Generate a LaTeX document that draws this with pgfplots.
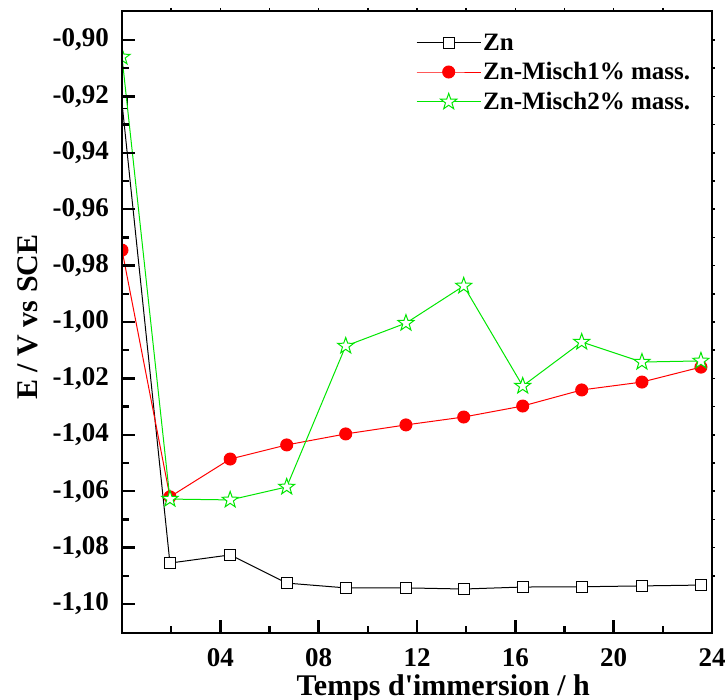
\documentclass[border=0pt]{standalone}
\usepackage{pgfplots}
\pgfplotsset{compat=1.18}
\usepackage{fontspec}
\setmainfont{Liberation Serif}
\pgfdeclareplotmark{ostar}{%
  \pgfpathmoveto{\pgfpointpolar{90}{\pgfplotmarksize}}%
  \pgfpathlineto{\pgfpointpolar{126}{0.4\pgfplotmarksize}}%
  \pgfpathlineto{\pgfpointpolar{162}{\pgfplotmarksize}}%
  \pgfpathlineto{\pgfpointpolar{198}{0.4\pgfplotmarksize}}%
  \pgfpathlineto{\pgfpointpolar{234}{\pgfplotmarksize}}%
  \pgfpathlineto{\pgfpointpolar{270}{0.4\pgfplotmarksize}}%
  \pgfpathlineto{\pgfpointpolar{306}{\pgfplotmarksize}}%
  \pgfpathlineto{\pgfpointpolar{342}{0.4\pgfplotmarksize}}%
  \pgfpathlineto{\pgfpointpolar{18}{\pgfplotmarksize}}%
  \pgfpathlineto{\pgfpointpolar{54}{0.4\pgfplotmarksize}}%
  \pgfpathclose
  \pgfusepathqfillstroke}
\definecolor{pgreen}{RGB}{0,230,0}
\begin{document}
\begin{tikzpicture}
\begin{axis}[
  at={(0bp,0bp)}, anchor=south west,
  scale only axis, width=590bp, height=622bp,
  xmin=0, xmax=24, ymin=-1.1103, ymax=-0.8897,
  xtick={4,8,12,16,20,24}, xticklabels={04,08,12,16,20,24},
  minor xtick={2,6,10,14,18,22},
  ytick={-1.10,-1.08,-1.06,-1.04,-1.02,-1.00,-0.98,-0.96,-0.94,-0.92,-0.90},
  yticklabels={{-1,10},{-1,08},{-1,06},{-1,04},{-1,02},{-1,00},{-0,98},{-0,96},{-0,94},{-0,92},{-0,90}},
  minor ytick={-1.09,-1.07,-1.05,-1.03,-1.01,-0.99,-0.97,-0.95,-0.93,-0.91},
  tick align=inside, tick pos=left,
  major tick length=13bp, minor tick length=7bp,
  every tick/.append style={line width=2.5bp, black},
  axis line style={line width=2.5bp},
  axis on top, clip marker paths=true,
  yticklabel style={font=\fontsize{27bp}{30bp}\selectfont\bfseries, inner sep=0pt, anchor=east, xshift=-13bp},
  xticklabel style={font=\fontsize{27bp}{30bp}\selectfont\bfseries, inner sep=0pt, anchor=north, yshift=-15bp},
  xlabel={Temps d\textquotesingle immersion / h},
  ylabel={E / V vs SCE},
  every axis x label/.style={at={(axis description cs:0.5445,-0.0997)}, anchor=base, font=\fontsize{30bp}{36bp}\selectfont\bfseries},
  every axis y label/.style={at={(axis description cs:-0.159,0.508)}, anchor=center, rotate=90, font=\fontsize{30bp}{36bp}\selectfont\bfseries},
  legend cell align=left,
  legend style={at={(axis description cs:0.4983,0.967)}, anchor=north west, draw=none, fill=none,
    inner sep=0pt, row sep=7bp, font=\fontsize{25bp}{29bp}\selectfont\bfseries,
    nodes={inner sep=2bp}},
  legend image code/.code={\draw[mark repeat=2,mark phase=2] plot coordinates {(0bp,0bp) (32bp,0bp) (64bp,0bp)};},
]
\addplot[black, line width=1bp, mark=square*, mark size=5.5bp, mark options={fill=white, line width=1bp}]
coordinates {(0,-0.9223) (1.95,-1.0855) (4.4,-1.0826) (6.7,-1.0926) (9.1,-1.0943) (11.55,-1.0943) (13.9,-1.0947) (16.3,-1.0940) (18.7,-1.0939) (21.15,-1.0936) (23.55,-1.0933)};
\addlegendentry{Zn}
\addplot[red, line width=1bp, mark=*, mark size=6bp, mark options={fill=red, draw=red}]
coordinates {(0,-0.9745) (1.95,-1.0620) (4.4,-1.0486) (6.7,-1.0436) (9.1,-1.0397) (11.55,-1.0365) (13.9,-1.0337) (16.3,-1.0298) (18.7,-1.0241) (21.15,-1.0213) (23.55,-1.0160)};
\addlegendentry{Zn-Misch1\% mass.}
\addplot[pgreen, line width=1bp, mark=ostar, mark size=8.5bp, mark options={fill=white, draw=pgreen, line width=1bp}]
coordinates {(0,-0.9060) (1.95,-1.0628) (4.4,-1.0631) (6.7,-1.0585) (9.1,-1.0085) (11.55,-1.0004) (13.9,-0.9872) (16.3,-1.0227) (18.7,-1.0071) (21.15,-1.0142) (23.55,-1.0138)};
\addlegendentry{Zn-Misch2\% mass.}
\end{axis}
\begin{axis}[
  at={(0bp,0bp)}, anchor=south west,
  scale only axis, width=590bp, height=622bp,
  xmin=0, xmax=24, ymin=-1.1103, ymax=-0.8897,
  xtick={2,4,...,22}, ytick={-1.09,-1.08,...,-0.90},
  xticklabels={}, yticklabels={},
  tick align=outside, xtick pos=right, ytick pos=right,
  major tick length=3bp,
  every tick/.append style={line width=1.5bp, black},
  axis line style={draw=none},
]
\end{axis}
\pgfresetboundingbox
\path[use as bounding box] (-122bp,-67bp) rectangle (606bp,633bp);
\end{tikzpicture}
\end{document}
